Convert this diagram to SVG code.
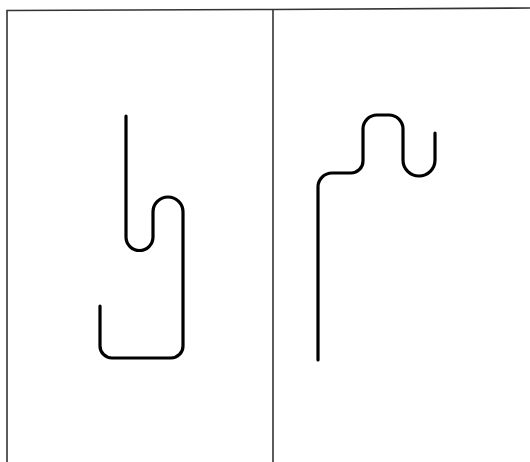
<svg xmlns="http://www.w3.org/2000/svg" width="530" height="462" viewBox="0 0 530 462">
<style>
.frame{fill:none;stroke:#333;stroke-width:1.6}
.wire{fill:none;stroke:#000;stroke-width:3.2;stroke-linecap:round;stroke-linejoin:round}
</style>
<rect width="530" height="462" fill="#fff"/>
<g id="frame">
<path class="frame" d="M7,462 V10.5 L273,9.5 L530,8"/>
<path class="frame" d="M273,9.5 V462"/>
</g>
<g id="left-hook">
<path class="wire" d="M126,116 V237 A13.5,13.5 0 0 0 153,237 V212 A15,15 0 0 1 183,212 V346 A12,12 0 0 1 171,358 H112 A12,12 0 0 1 100,346 V306"/>
</g>
<g id="right-hook">
<path class="wire" d="M318,360 V187 A14,14 0 0 1 332,173 H351 A12,12 0 0 0 363,161 V129 A14,14 0 0 1 377,115 H389 A14,14 0 0 1 403,129 V160 A16,16 0 0 0 435,160 V133"/>
</g>
</svg>
